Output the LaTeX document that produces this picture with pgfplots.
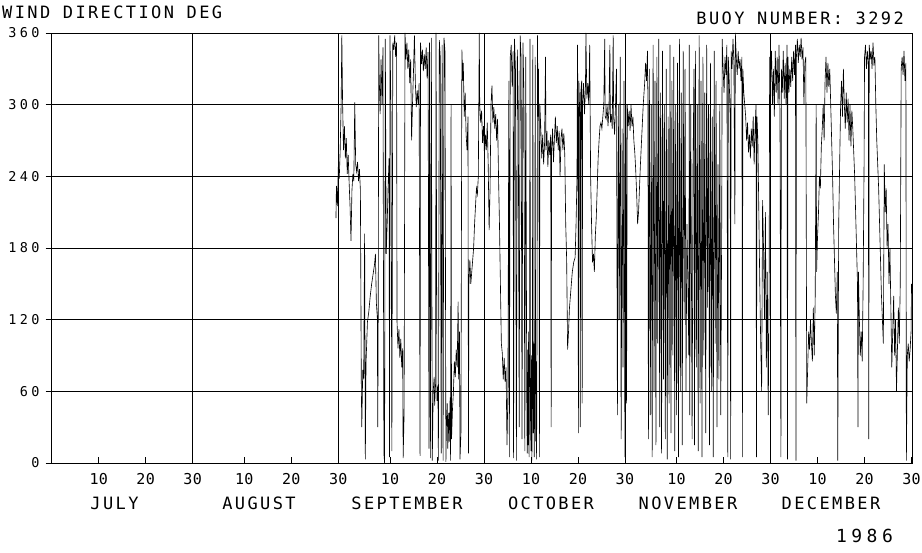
\documentclass[border=0pt]{standalone}
\usepackage{pgfplots}
\pgfplotsset{compat=1.18}
\usepackage{fontspec}
\newfontfamily\titlefont{DejaVu Sans Mono}[LetterSpace=14]
\newfontfamily\xfont{DejaVu Sans Mono}[LetterSpace=2]
\newfontfamily\yfont{DejaVu Sans Mono}[LetterSpace=25]
\newfontfamily\yrfont{DejaVu Sans Mono}[LetterSpace=25]
\begin{document}
\begin{tikzpicture}
\useasboundingbox (-51.7pt,-90pt) rectangle (870.3pt,463pt);
\begin{axis}[
  at={(0pt,0pt)}, anchor=south west,
  scale only axis, width=860.3pt, height=430pt,
  xmin=0, xmax=183.1, ymin=0, ymax=360,
  axis line style={black, line width=0.8pt},
  /pgf/number format/assume math mode=true,
  xtick={10,20,30,41,51,61,72,82,92,102,112,122,133,143,153,163,173,183},
  xticklabels={10,20,30,10,20,30,10,20,30,10,20,30,10,20,30,10,20,30},
  ytick={0,60,120,180,240,300,360},
  yticklabels={0,60,120,180,240,300,360},
  xtick pos=bottom, ytick pos=left,
  tick align=inside,
  major tick length=6pt,
  tick style={black, line width=0.7pt},
  y tick style={xshift=-6pt},
  ymajorgrids, grid style={black, line width=0.45pt},
  x tick label style={font=\fontsize{15}{15}\xfont, anchor=base, inner sep=0pt, yshift=-22pt},
  y tick label style={font=\fontsize{13.5}{13.5}\yfont, anchor=east, inner sep=0pt, xshift=-12pt},
  clip=true,
]
\draw[black, line width=0.45pt] (axis cs:30,0) -- (axis cs:30,360);
\draw[black, line width=0.45pt] (axis cs:61,0) -- (axis cs:61,360);
\draw[black, line width=0.45pt] (axis cs:92,0) -- (axis cs:92,360);
\draw[black, line width=0.45pt] (axis cs:122,0) -- (axis cs:122,360);
\draw[black, line width=0.45pt] (axis cs:153,0) -- (axis cs:153,360);
\addplot[black, line width=0.62pt, mark=none] coordinates {
(60.5,205)(60.6,232)(60.8,215)(61.0,248)(61.2,238)(61.4,262)(61.6,300)(61.75,358)(61.9,305)(62.1,262)(62.3,282)(62.5,255)(62.7,272)(62.9,242)(63.1,258)(63.3,235)(63.5,215)(63.7,186)(63.9,228)(64.1,242)(64.3,236)(64.5,302)(64.7,250)(64.9,244)(65.1,252)(65.3,236)(65.5,246)(65.7,228)(65.9,62)(66.0,30)(66.2,78)(66.4,70)(66.6,192)(66.75,3)(66.9,84)(67.2,118)(67.5,127)(67.8,140)(68.1,150)(68.4,158)(68.7,166)(68.9,175)(69.1,134)(69.3,122)(69.4,30)(69.5,130)(69.6,358)(69.7,325)(69.9,292)(70.1,338)(70.3,300)(70.5,348)(70.7,8)(70.85,0)
(71.0,355)(71.2,175)(71.4,200)(71.6,232)(71.8,255)(71.9,5)(72.0,358)(72.2,296)(72.4,10)(72.6,352)(72.8,346)(73.0,358)(73.2,340)(73.4,352)(73.5,118)(73.7,96)(73.9,112)(74.1,88)(74.3,104)(74.5,80)(74.7,96)(74.8,4)(75.0,40)
(75.2,360)(75.4,338)(75.6,352)(75.8,330)(76.0,346)(76.2,318)(76.4,338)(76.6,270)(76.8,302)(77.0,328)(77.2,358)(77.4,318)(77.6,298)(77.8,312)(78.0,300)(78.2,318)(78.4,6)(78.5,352)(78.7,334)(78.9,346)(79.1,328)(79.3,342)(79.5,330)(79.7,348)(79.9,322)(80.1,344)(80.3,12)(80.4,352)(80.6,4)(80.8,356)(81.0,2)(81.2,60)(81.4,72)(81.5,48)(81.7,66)(81.8,360)(82.0,52)(82.2,64)(82.3,2)(82.5,354)(82.7,340)(82.9,8)(83.1,350)(83.3,2)(83.5,356)(83.7,345)(83.9,1)
(84.0,30)(84.2,50)(84.3,12)(84.5,42)(84.6,18)(84.8,55)(84.9,2)(85.0,300)(85.1,20)(85.3,45)(85.5,60)(85.7,85)(85.9,72)(86.1,95)(86.3,80)(86.5,135)(86.6,70)(86.8,110)(86.9,3)(87.1,25)(87.3,346)(87.5,320)(87.6,335)(87.8,290)(88.0,310)(88.2,275)(88.4,262)(88.6,290)(88.7,8)
(88.8,150)(89.0,170)(89.2,150)(89.5,165)(89.8,180)(90.0,200)(90.2,215)(90.4,230)(90.6,225)(90.8,240)(91.0,360)(91.1,300)(91.3,285)(91.5,295)(91.7,268)(91.9,282)(92.1,258)(92.3,275)(92.5,262)(92.7,285)(92.9,250)(93.1,195)(93.3,230)(93.5,300)(93.7,316)(93.9,285)(94.1,298)(94.3,280)(94.5,292)(94.7,270)(94.9,288)(95.1,240)(95.3,200)(95.5,150)(95.7,100)(95.9,92)(96.1,70)(96.3,88)(96.5,68)(96.7,80)(96.9,15)(97.1,60)(97.3,320)(97.4,5)(97.6,340)(97.8,350)(98.0,315)(98.2,345)(98.3,4)(98.5,355)(98.7,330)(98.9,2)(99.1,346)(99.3,300)(99.5,30)(99.7,358)(99.9,340)(100.1,20)(100.3,352)(100.5,310)(100.7,10)(100.9,340)
(101.1,60)(101.2,8)(101.3,95)(101.4,15)(101.5,110)(101.6,5)(101.7,80)(101.8,355)(101.9,40)(102.0,10)(102.1,90)(102.2,2)(102.3,70)(102.4,350)(102.5,25)(102.6,100)(102.7,5)(102.8,60)(102.9,340)(103.0,18)(103.1,85)(103.2,3)(103.3,120)(103.4,358)(103.5,290)(103.6,330)(103.7,270)(103.8,5)(103.9,300)
(104.1,280)(104.3,255)(104.5,275)(104.7,250)(104.9,268)(105.1,340)(105.2,262)(105.4,278)(105.6,248)(105.8,270)(106.0,258)(106.2,275)(106.3,30)(106.4,260)(106.6,280)(106.8,252)(107.0,272)(107.2,290)(107.4,268)(107.6,282)(107.8,262)(108.0,278)(108.2,240)(108.4,272)(108.6,280)(108.8,262)(109.0,276)(109.2,258)(109.4,200)(109.6,170)(109.8,95)(110.0,110)(110.2,130)(110.5,145)(110.8,160)(111.1,168)(111.4,172)(111.6,200)(111.8,240)(111.9,350)(112.0,300)(112.1,25)(112.2,320)(112.4,290)(112.5,30)(112.6,310)(112.8,320)(112.9,50)(113.0,300)(113.2,318)(113.4,292)(113.6,315)(113.7,360)(113.9,305)(114.1,318)(114.3,300)(114.5,350)(114.7,240)(114.9,200)(115.1,168)(115.3,175)(115.5,160)(115.7,190)(115.9,205)(116.1,230)(116.3,255)(116.5,270)(116.7,282)(116.9,285)(117.1,280)(117.3,290)(117.5,300)(117.7,355)(117.8,290)(118.0,288)(118.2,300)(118.4,282)(118.6,296)(118.8,350)(118.9,285)(119.1,292)(119.3,280)(119.5,358)(119.6,290)(119.8,275)(120.0,300)
(120.2,330)(120.4,40)(120.6,300)(120.8,120)(121.0,340)(121.2,20)(121.4,280)(121.6,80)(121.8,320)(122.0,5)(122.2,300)(122.35,50)
(122.5,300)(122.7,282)(122.9,295)(123.1,278)(123.3,300)(123.5,282)(123.7,290)(123.9,270)(124.1,260)(124.3,245)(124.5,225)(124.7,200)(124.9,210)(125.1,230)(125.3,250)(125.6,275)(125.9,300)(126.2,318)(126.4,335)(126.6,320)(126.8,345)(126.9,300)
(127.0,20)(127.2,330)(127.4,40)(127.6,300)(127.8,5)(128.0,350)(128.2,60)(128.4,320)(128.6,15)(128.8,340)(129.0,100)(129.2,355)(129.4,30)(129.6,310)(129.8,8)(130.0,345)(130.2,70)(130.4,300)(130.6,20)(130.8,330)(131.0,3)(131.2,290)(131.4,50)(131.6,350)(131.8,25)(132.0,320)(132.2,90)(132.4,340)(132.6,10)(132.8,300)(133.0,40)(133.2,335)(133.4,5)(133.6,355)(133.8,60)(134.0,310)(134.2,15)(134.4,345)(134.6,120)(134.8,330)(135.0,60)(135.2,200)(135.4,150)(135.6,90)(135.7,350)(135.8,40)(136.0,300)(136.2,120)(136.3,20)(136.5,250)(136.7,330)(136.8,15)(137.0,345)(137.2,80)(137.4,300)(137.6,10)(137.8,358)(138.0,50)(138.2,320)(138.4,5)(138.6,340)(138.8,90)(139.0,310)(139.2,25)(139.4,350)(139.6,130)(139.8,300)(140.0,15)(140.2,335)(140.4,60)(140.6,290)(140.8,5)(141.0,345)(141.2,100)(141.4,320)(141.6,30)(141.8,250)(142.0,70)(142.2,300)(142.4,40)(142.6,200)(142.7,355)
(142.9,330)(143.1,310)(143.3,340)(143.5,325)(143.7,350)(143.9,5)(144.0,340)(144.2,320)(144.4,290)(144.5,3)(144.6,345)(144.8,330)(145.0,355)(145.2,335)(145.4,200)(145.5,360)(145.7,340)(145.9,325)(146.1,345)(146.3,330)(146.5,338)(146.7,320)(146.9,340)(147.0,5)(147.1,330)(147.3,310)(147.5,300)(147.7,290)(147.9,270)(148.1,285)(148.3,260)(148.5,275)(148.7,255)(148.9,280)(149.1,265)(149.3,290)(149.5,250)(149.7,280)(149.9,300)(150.0,5)(150.1,290)(150.3,270)(150.5,210)(150.7,150)(150.9,100)(151.1,60)(151.3,220)(151.5,180)(151.7,120)(151.9,210)(152.1,80)(152.3,160)(152.5,40)(152.7,150)(152.8,340)
(153.0,320)(153.2,345)(153.4,300)(153.6,330)(153.8,290)(154.0,345)(154.2,310)(154.4,340)(154.6,300)(154.8,350)(155.0,295)(155.2,5)(155.3,330)(155.5,310)(155.7,345)(155.9,305)(156.1,335)(156.3,300)(156.5,350)(156.6,3)(156.7,340)(156.9,310)(157.1,330)(157.3,315)(157.5,340)(157.7,320)(157.9,345)(158.1,325)(158.3,350)(158.4,2)(158.5,340)(158.7,355)(158.9,335)(159.1,350)(159.3,340)(159.5,356)(159.7,338)(159.9,348)(160.1,300)(160.3,335)(160.5,340)(160.7,50)(160.9,80)(161.1,110)(161.3,95)(161.5,120)(161.7,100)(161.9,85)(162.1,130)(162.3,90)(162.5,140)(162.7,300)
(162.8,160)(163.0,190)(163.2,210)(163.4,240)(163.6,230)(163.8,265)(164.0,280)(164.2,300)(164.4,270)(164.6,320)(164.8,340)(165.0,310)(165.2,335)(165.4,315)(165.6,330)(165.8,300)(166.0,270)(166.2,240)(166.4,200)(166.6,170)(166.8,140)(167.0,125)(167.2,160)(167.3,2)(167.5,200)(167.7,250)(167.9,298)(168.1,320)(168.3,290)(168.5,330)(168.7,300)(168.9,280)(169.1,310)(169.3,285)(169.5,305)(169.7,270)(169.9,300)(170.1,265)(170.3,295)(170.5,280)(170.7,260)(170.9,240)(171.1,210)(171.3,180)(171.5,150)(171.6,30)(171.7,160)(171.9,120)(172.1,90)(172.3,110)(172.5,85)(172.7,150)(172.9,250)(173.0,340)(173.2,350)(173.4,330)(173.6,345)(173.8,335)(173.9,20)(174.0,350)(174.2,338)(174.4,345)(174.6,330)(174.8,352)(175.0,335)(175.2,340)(175.4,300)(175.6,270)(175.8,250)(176.0,230)(176.2,200)(176.4,170)(176.6,140)(176.8,120)(177.0,100)(177.2,250)(177.4,210)(177.6,230)(177.8,180)(178.0,200)(178.2,150)(178.4,180)(178.6,130)(178.8,80)(179.0,110)(179.2,140)(179.4,90)(179.6,120)(179.8,60)(180.0,95)(180.2,130)(180.4,100)(180.6,150)(180.8,330)(181.0,340)(181.2,325)(181.4,345)(181.6,320)(181.8,335)(181.9,2)(182.1,90)(182.3,100)(182.5,85)(182.7,95)(182.9,110)(183.0,150)
};
\end{axis}
\node[anchor=base west, inner sep=0pt, font=\fontsize{17}{17}\titlefont] at (-49.7pt,444.5pt) {WIND DIRECTION DEG};
\node[anchor=base east, inner sep=0pt, font=\fontsize{17}{17}\titlefont] at (852.3pt,438pt) {BUOY NUMBER: 3292};
\node[anchor=base, inner sep=0pt, font=\fontsize{17}{17}\titlefont] at (62.8pt,-47pt) {JULY};
\node[anchor=base, inner sep=0pt, font=\fontsize{17}{17}\titlefont] at (207.3pt,-47pt) {AUGUST};
\node[anchor=base, inner sep=0pt, font=\fontsize{17}{17}\titlefont] at (355.3pt,-47pt) {SEPTEMBER};
\node[anchor=base, inner sep=0pt, font=\fontsize{17}{17}\titlefont] at (499.3pt,-47pt) {OCTOBER};
\node[anchor=base, inner sep=0pt, font=\fontsize{17}{17}\titlefont] at (636.3pt,-47pt) {NOVEMBER};
\node[anchor=base, inner sep=0pt, font=\fontsize{17}{17}\titlefont] at (779.3pt,-47pt) {DECEMBER};
\node[anchor=base, inner sep=0pt, font=\fontsize{18}{18}\yrfont] at (812.8pt,-80pt) {1986};
\end{tikzpicture}
\end{document}
